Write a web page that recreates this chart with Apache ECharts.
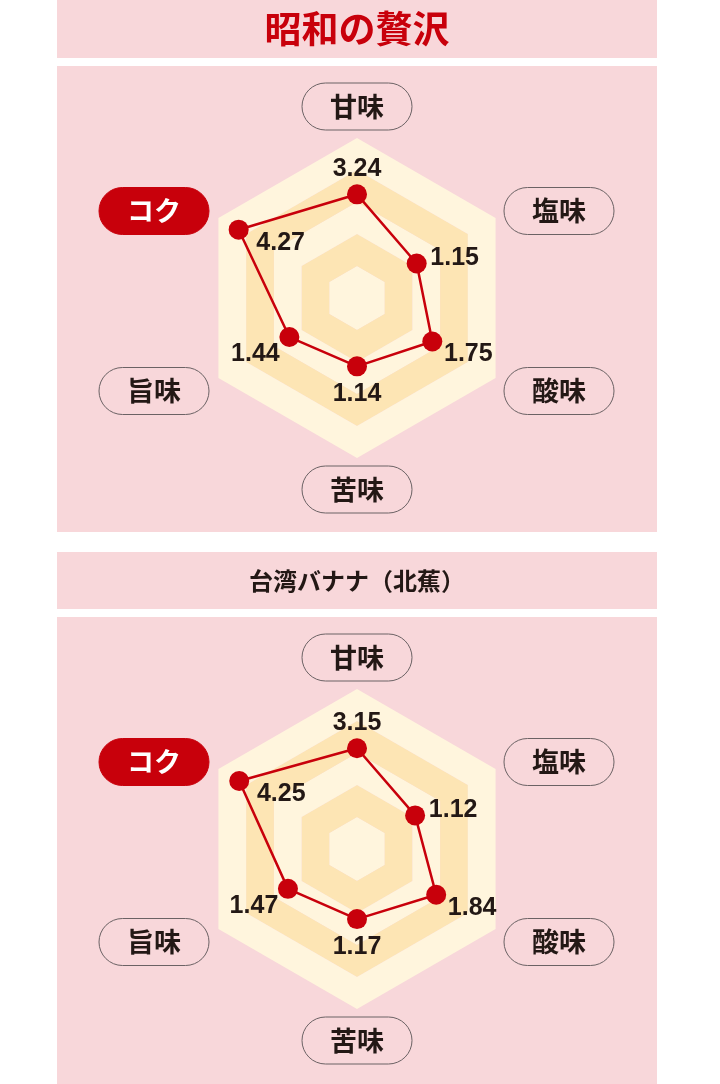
<!DOCTYPE html>
<html>
<head>
<meta charset="utf-8">
<script src="https://cdn.jsdelivr.net/npm/echarts@6/dist/echarts.min.js"></script>
<style>
  html, body { margin: 0; padding: 0; background: #fff; }
  #chart { width: 720px; height: 1084px; }
</style>
</head>
<body>
<div id="chart"></div>
<script>
// tastes listed clockwise from the top
var tastes = ['甘味', '塩味', '酸味', '苦味', '旨味', 'コク'];
// each axis has its own scale in the original (outer ring = this value)
var axisMax = [5, 2.67, 3.22, 2.67, 2.95, 5];
var showaTitle = '昭和の贅沢';
var showaValues = [3.24, 1.15, 1.75, 1.14, 1.44, 4.27];
var taiwanTitle = '台湾バナナ（北蕉）';
var taiwanValues = [3.15, 1.12, 1.84, 1.17, 1.47, 4.25];
var highlight = 'コク';

var RED = '#c8000b', INK = '#231815', PINK = '#f8d7da';
var CREAM = '#fff5dd', ORANGE = '#fde5b4';
var cx = 357;

// echarts radar runs counterclockwise, so walk the list backwards after the top
var order = [0, 5, 4, 3, 2, 1];
// label offset from each dot / pill offset from the chart centre, clockwise order
var labelOffset = [[0, -25], [38, -5], [36, 13], [0, 28], [-34, 17], [42, 13]];
var pillOffset = [[0, -191.5], [202, -87], [202, 93], [0, 191.5], [-203, 93], [-203, -87]];

var panels = [
  { title: showaTitle, values: showaValues, top: 0, titleH: 58, bodyTop: 66, bodyH: 466, cy: 298,
    font: 'bold 37px "Noto Sans CJK JP"', color: RED },
  { title: taiwanTitle, values: taiwanValues, top: 552, titleH: 57, bodyTop: 617, bodyH: 467, cy: 849,
    font: 'bold 24px "Noto Sans CJK JP"', color: INK }
];

var graphics = [];
panels.forEach(function (p) {
  graphics.push({ type: 'rect', z: -1, shape: { x: 57, y: p.top, width: 600, height: p.titleH }, style: { fill: PINK } });
  graphics.push({ type: 'rect', z: -1, shape: { x: 57, y: p.bodyTop, width: 600, height: p.bodyH }, style: { fill: PINK } });
  graphics.push({ type: 'text', x: cx, y: p.top + p.titleH / 2,
    style: { text: p.title, font: p.font, fill: p.color, textAlign: 'center', textVerticalAlign: 'middle' } });
  tastes.forEach(function (name, i) {
    var on = name === highlight;
    var px = cx + pillOffset[i][0], py = p.cy + pillOffset[i][1];
    graphics.push({ type: 'rect', shape: { x: px - 55, y: py - 23.5, width: 110, height: 47, r: 23.5 },
      style: { fill: on ? RED : 'none', stroke: on ? RED : '#6b6264', lineWidth: 1 } });
    graphics.push({ type: 'text', x: px, y: py,
      style: { text: name, font: 'bold 27px "Noto Sans CJK JP"', fill: on ? '#fff' : INK,
        textAlign: 'center', textVerticalAlign: 'middle' } });
  });
});

var option = {
  animation: false,
  graphic: graphics,
  radar: panels.map(function (p) {
    return {
      center: [cx, p.cy],
      radius: 160,
      shape: 'polygon',
      splitNumber: 5,
      startAngle: 90,
      indicator: order.map(function (i) { return { name: tastes[i], min: 0, max: axisMax[i] }; }),
      axisName: { show: false },
      axisLine: { show: false },
      axisTick: { show: false },
      axisLabel: { show: false },
      splitLine: { show: false },
      splitArea: { show: true, areaStyle: { color: [CREAM, ORANGE, CREAM, ORANGE, CREAM] } }
    };
  }),
  series: panels.map(function (p, k) {
    var vals = order.map(function (i) { return p.values[i]; });
    var items = [{
      value: vals,
      symbol: 'circle',
      symbolSize: 20,
      lineStyle: { color: RED, width: 2.5 },
      itemStyle: { color: RED },
      label: { show: false }
    }];
    // one invisible copy per axis, each carrying only its own value label
    order.forEach(function (i, d) {
      items.push({
        value: vals,
        symbol: 'circle',
        symbolSize: 20,
        lineStyle: { opacity: 0 },
        itemStyle: { color: 'rgba(0,0,0,0)' },
        label: {
          show: true,
          position: 'inside',
          offset: labelOffset[i],
          color: INK,
          fontFamily: '"Liberation Sans", Arial, sans-serif',
          fontWeight: 'bold',
          fontSize: 25,
          formatter: function (pp) {
            return pp.dimensionIndex === d ? Number(pp.value).toFixed(2) : '';
          }
        }
      });
    });
    return { type: 'radar', radarIndex: k, silent: true, z: 3, data: items };
  })
};

echarts.init(document.getElementById('chart')).setOption(option);
</script>
</body>
</html>
